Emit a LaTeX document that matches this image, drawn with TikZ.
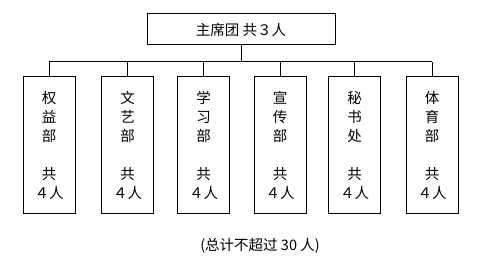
\documentclass[tikz,border=0pt]{standalone}
\usepackage{fontspec}
\newfontfamily\cjk{Noto Sans CJK SC}
\begin{document}
\begin{tikzpicture}[x=1pt,y=-1pt,
  line width=1pt,
  dept/.style={draw, minimum width=52pt, minimum height=136pt, inner sep=0pt, align=center, font=\cjk\fontsize{14.5}{19}\selectfont},
  head/.style={draw, minimum width=188pt, minimum height=31pt, inner sep=0pt, font=\cjk\fontsize{14.5}{18}\selectfont}]
\useasboundingbox (0,0) rectangle (481,267);
\node[head] (top) at (241,29.5) {主席团 共３人};
\coordinate (bus) at (241,62);
\node[dept] (b1) at (49,145) {权\\益\\部\\[19pt]共\\４人};
\node[dept] (b2) at (127.5,145) {文\\艺\\部\\[19pt]共\\４人};
\node[dept] (b3) at (203.5,145) {学\\习\\部\\[19pt]共\\４人};
\node[dept] (b4) at (280,145) {宣\\传\\部\\[19pt]共\\４人};
\node[dept] (b5) at (354.5,145) {秘\\书\\处\\[19pt]共\\４人};
\node[dept] (b6) at (432,145) {体\\育\\部\\[19pt]共\\４人};
\draw (top.south) -- (bus);
\draw (b1.north |- bus) -- (b6.north |- bus);
\foreach \i in {1,...,6} \draw (b\i.north) -- (b\i.north |- bus);
\node[font=\cjk\fontsize{14.5}{16}\selectfont] (note) at (260,246) {(总计不超过 30 人)};
\end{tikzpicture}
\end{document}
